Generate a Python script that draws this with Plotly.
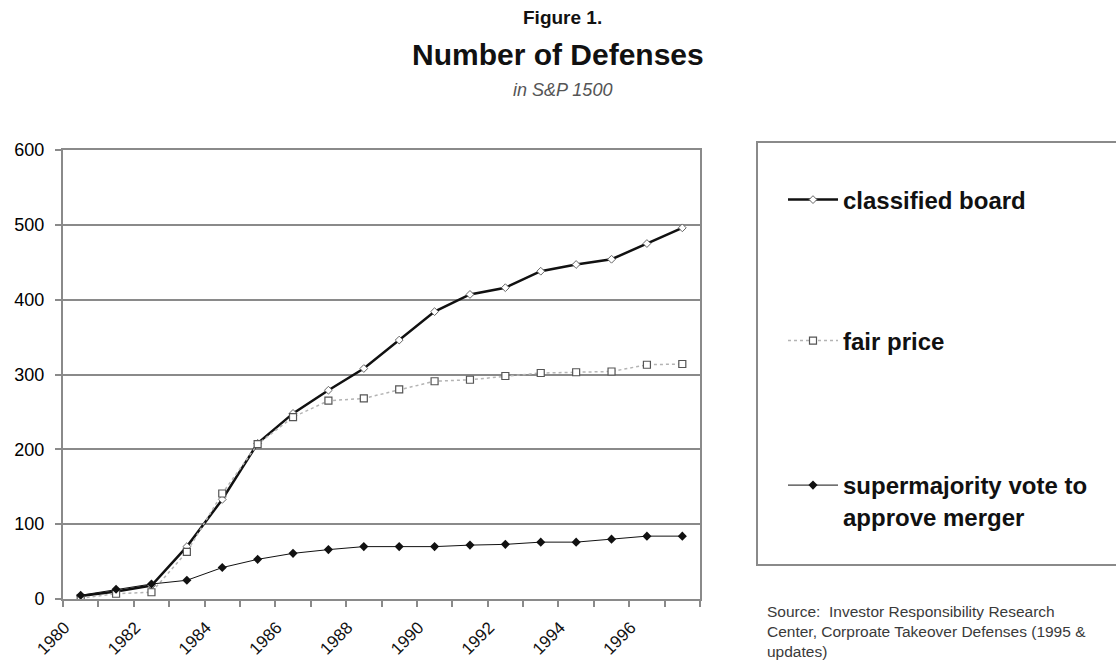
import plotly.graph_objects as go

years = list(range(1980, 1998))
classified_board = [4, 10, 18, 70, 133, 208, 248, 279, 308, 346, 384, 407, 416, 438, 447, 454, 475, 496]
fair_price = [1, 7, 9, 63, 141, 207, 243, 265, 268, 280, 291, 293, 298, 302, 303, 304, 313, 314]
supermajority = [5, 13, 20, 25, 42, 53, 61, 66, 70, 70, 70, 72, 73, 76, 76, 80, 84, 84]
tick_years = [1980, 1982, 1984, 1986, 1988, 1990, 1992, 1994, 1996]

W, H = 1116, 660
L, R, T, B = 63, 700, 150, 599
FONT = "Liberation Sans, Arial, sans-serif"


def px(x):
    return (x - L) / (R - L)


def py(y):
    return (B - y) / (B - T)


fig = go.Figure()
fig.add_trace(go.Scatter(
    x=years, y=classified_board, name="classified board", mode="lines+markers",
    line=dict(color="#111111", width=2.5),
    marker=dict(symbol="diamond", size=6, color="white", line=dict(color="#666666", width=1)),
    legend="legend"))
fig.add_trace(go.Scatter(
    x=years, y=fair_price, name="fair price", mode="lines+markers",
    line=dict(color="#b4b4b4", width=1.5, dash="dot"),
    marker=dict(symbol="square", size=7, color="white", line=dict(color="#555555", width=1.2)),
    legend="legend2"))
fig.add_trace(go.Scatter(
    x=years, y=supermajority, name="supermajority vote to<br>approve merger", mode="lines+markers",
    line=dict(color="#111111", width=1),
    marker=dict(symbol="diamond", size=7, color="#111111"),
    legend="legend3"))

legend_font = dict(size=24, family=FONT, color="#111111", weight="bold")
common_leg = dict(xanchor="left", bgcolor="rgba(0,0,0,0)", borderwidth=0,
                  font=legend_font, itemwidth=50)

fig.update_layout(
    width=W, height=H,
    margin=dict(l=L, r=W - R, t=T, b=H - B, autoexpand=False),
    plot_bgcolor="white", paper_bgcolor="white",
    font=dict(family=FONT, color="#111111"),
    showlegend=True,
    legend=dict(x=px(783), y=py(200), yanchor="middle", **common_leg),
    legend2=dict(x=px(783), y=py(341), yanchor="middle", **common_leg),
    legend3=dict(x=px(783), y=py(501), yanchor="middle", valign="top", **common_leg),
    xaxis=dict(
        range=[1979.5, 1997.5], automargin=False,
        tickmode="array", tickvals=tick_years, ticktext=[str(y) for y in tick_years],
        ticks="", tickangle=-45,
        tickfont=dict(size=17, color="#111111", family=FONT),
        ticklabelshift=-16, ticklabelstandoff=10,
        showline=True, linecolor="#8a8a8a", linewidth=2, mirror=True,
        showgrid=False, zeroline=False,
        minor=dict(tick0=1979.5, dtick=1, ticks="outside", ticklen=6, tickcolor="#8a8a8a",
                   tickwidth=1.5, showgrid=False),
    ),
    yaxis=dict(
        range=[0, 600], dtick=100, automargin=False,
        ticks="outside", ticklen=6, tickcolor="#8a8a8a", tickwidth=1.5,
        tickfont=dict(size=18, color="#000000", family=FONT),
        ticklabelstandoff=7,
        showline=True, linecolor="#8a8a8a", linewidth=2, mirror=True,
        showgrid=True, gridcolor="#8a8a8a", gridwidth=2, zeroline=False,
    ),
)

# legend box
fig.add_shape(type="rect", xref="paper", yref="paper",
              x0=px(757), x1=px(1130), y0=py(565), y1=py(142),
              line=dict(color="#8a8a8a", width=2), fillcolor="rgba(0,0,0,0)", layer="below")

# titles
fig.add_annotation(text="<b>Figure 1.</b>", xref="paper", yref="paper", x=px(562), y=py(18),
                   showarrow=False, font=dict(size=19, color="#111111", family=FONT),
                   xanchor="center", yanchor="middle")
fig.add_annotation(text="<b>Number of Defenses</b>", xref="paper", yref="paper", x=px(558), y=py(54),
                   showarrow=False, font=dict(size=30, color="#111111", family=FONT),
                   xanchor="center", yanchor="middle")
fig.add_annotation(text="<i>in S&P 1500</i>", xref="paper", yref="paper", x=px(562), y=py(90),
                   showarrow=False, font=dict(size=18, color="#555555", family=FONT),
                   xanchor="center", yanchor="middle")

# source
fig.add_annotation(text="Source:  Investor Responsibility Research<br>Center, Corproate Takeover Defenses (1995 &<br>updates)",
                   xref="paper", yref="paper", x=px(765), y=py(601), showarrow=False, align="left",
                   xanchor="left", yanchor="top", font=dict(size=15.5, color="#3a3a3a", family=FONT))

fig.write_html("out.html", config={"displayModeBar": False},
               post_script="document.body.style.margin='0';")
